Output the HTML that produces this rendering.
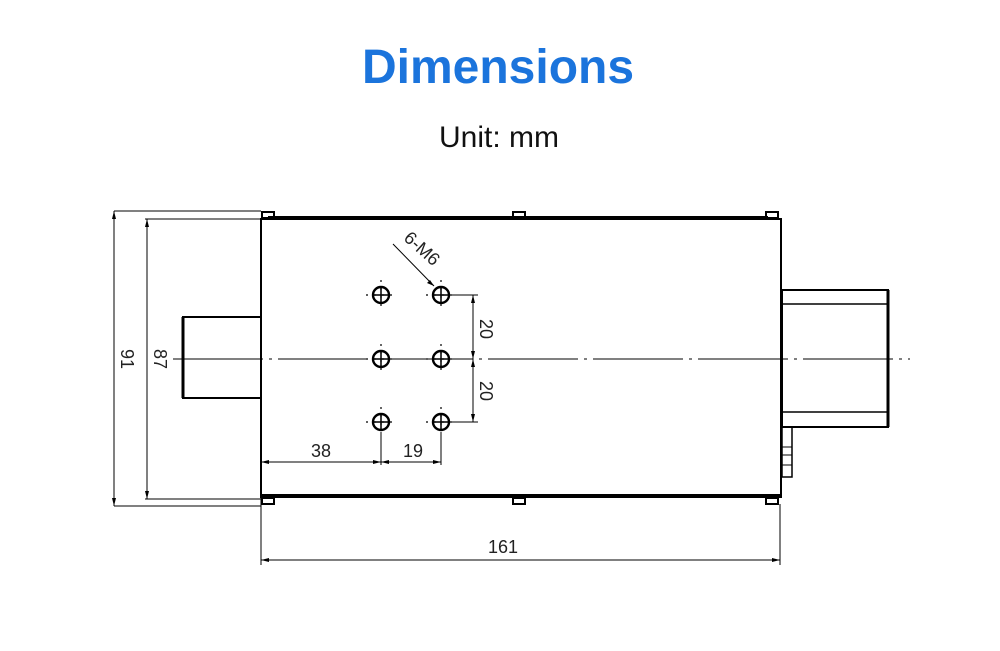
<!DOCTYPE html>
<html><head><meta charset="utf-8"><style>
body{margin:0;background:#fff;}
svg{display:block}
</style></head><body>
<svg width="1000" height="651" viewBox="0 0 1000 651" xmlns="http://www.w3.org/2000/svg">
<text x="498" y="83" text-anchor="middle" font-family="Liberation Sans, sans-serif" font-weight="bold" font-size="48" fill="#1b74dc">Dimensions</text>
<text x="499" y="147" text-anchor="middle" font-family="Liberation Sans, sans-serif" font-size="30" fill="#111">Unit: mm</text>
<g stroke="#000" fill="none">
<rect x="261" y="219" width="520" height="278" stroke-width="2"/>
<line x1="268" y1="218" x2="768" y2="218" stroke-width="4"/>
<line x1="261" y1="495" x2="781" y2="495" stroke-width="2"/>
<g stroke-width="2">
<rect x="262" y="212" width="12" height="6"/><rect x="513" y="212" width="12" height="6"/><rect x="766" y="212" width="12" height="6"/>
<rect x="262" y="498" width="12" height="6"/><rect x="513" y="498" width="12" height="6"/><rect x="766" y="498" width="12" height="6"/>
</g>
<rect x="183" y="317" width="78" height="81" stroke-width="2"/>
<line x1="183" y1="317" x2="183" y2="398" stroke-width="3"/>
<rect x="782" y="290" width="106" height="137" stroke-width="2"/>
<line x1="888" y1="290" x2="888" y2="427" stroke-width="3"/>
<line x1="782" y1="304" x2="888" y2="304" stroke-width="1.5"/>
<line x1="782" y1="412" x2="888" y2="412" stroke-width="1.5"/>
<rect x="782" y="427" width="10" height="50" stroke-width="1.5"/>
<line x1="782" y1="447" x2="792" y2="447" stroke-width="1"/><line x1="782" y1="455" x2="792" y2="455" stroke-width="1"/><line x1="782" y1="465" x2="792" y2="465" stroke-width="1"/>
<line x1="173" y1="359" x2="910" y2="359" stroke-width="1" stroke-dasharray="90,6,3,6"/>
<g stroke-width="2.4">
<circle cx="381" cy="295" r="8"/><circle cx="441" cy="295" r="8"/>
<circle cx="381" cy="359" r="8"/><circle cx="441" cy="359" r="8"/>
<circle cx="381" cy="422" r="8"/><circle cx="441" cy="422" r="8"/>
</g>
<g stroke-width="1.5">
<path d="M373 295h16M381 287v16M433 295h16M441 287v16M373 359h16M381 351v16M433 359h16M441 351v16M373 422h16M381 414v16M433 422h16M441 414v16"/>
</g>
<g stroke-width="1.2" stroke-dasharray="2,6">
<path d="M366 295h30M426 295h30M366 359h30M426 359h30M366 422h30M426 422h30M381 280v30M441 280v30M381 344v30M441 344v30M381 407v20M441 407v20"/>
</g>
<g stroke-width="1">
<line x1="114" y1="211" x2="261" y2="211"/><line x1="114" y1="506" x2="261" y2="506"/>
<line x1="114" y1="211" x2="114" y2="506"/>
<line x1="145" y1="219" x2="261" y2="219"/><line x1="145" y1="499" x2="261" y2="499"/>
<line x1="147" y1="219" x2="147" y2="499"/>
<line x1="450" y1="295" x2="478" y2="295"/><line x1="450" y1="422" x2="478" y2="422"/>
<line x1="473" y1="295" x2="473" y2="422"/>
<line x1="381" y1="432" x2="381" y2="465"/><line x1="441" y1="432" x2="441" y2="465"/>
<line x1="261" y1="462" x2="441" y2="462"/>
<line x1="261" y1="497" x2="261" y2="565"/><line x1="780" y1="504" x2="780" y2="565"/>
<line x1="261" y1="560" x2="780" y2="560"/>
<line x1="393" y1="244" x2="434" y2="286"/>
</g>
</g>
<g fill="#000">
<path d="M114 211l-2 8h4zM114 506l-2-8h4zM147 219l-2 8h4zM147 499l-2-8h4z"/>
<path d="M473 295l-2 8h4zM473 359l-2-8h4zM473 359l-2 8h4zM473 422l-2-8h4z"/>
<path d="M261 462l8-2v4zM381 462l-8-2v4zM381 462l8-2v4zM441 462l-8-2v4z"/>
<path d="M261 560l8-2v4zM780 560l-8-2v4z"/>
<path d="M434 286l-7-3 3-3z"/>
</g>
<g font-family="Liberation Sans, sans-serif" font-size="18" fill="#222" text-anchor="middle">
<text transform="translate(121,359) rotate(90)">91</text>
<text transform="translate(154,359) rotate(90)">87</text>
<text transform="translate(480,329) rotate(90)">20</text>
<text transform="translate(480,391) rotate(90)">20</text>
<text x="321" y="457">38</text>
<text x="413" y="457">19</text>
<text x="503" y="553">161</text>
<text transform="translate(418,253) rotate(42)">6-M6</text>
</g>
</svg>
</body></html>
